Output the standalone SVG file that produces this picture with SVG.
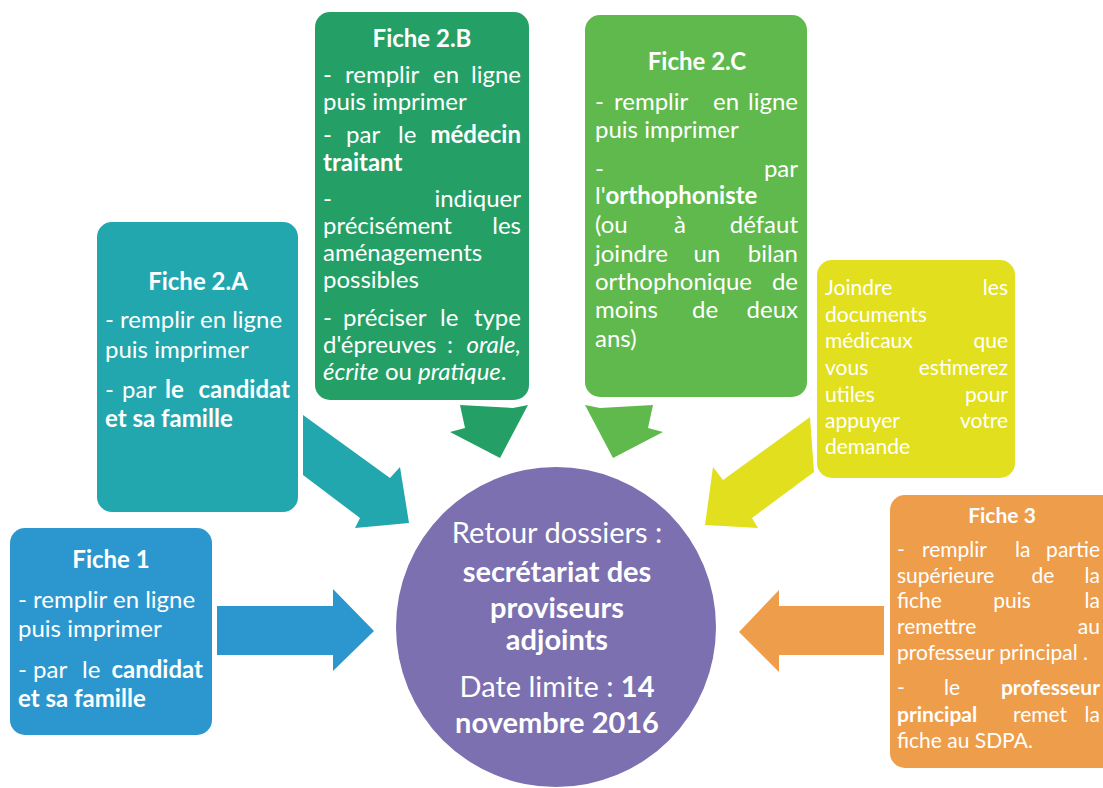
<svg xmlns="http://www.w3.org/2000/svg" width="1103" height="788" viewBox="0 0 1103 788">
<style>
.t{font-family:Lato,"Open Sans","Liberation Sans",sans-serif;fill:#fff;font-size:24px}
.s{font-size:21px}
.c{font-size:29px}
.b{font-weight:700}
.i{font-style:italic}
.m{text-anchor:middle}
.e{text-anchor:end}
.blue{fill:#2c97cf}
.teal{fill:#22a7ae}
.green{fill:#24a067}
.lgreen{fill:#60b94c}
.yellow{fill:#e2e01e}
.orange{fill:#ee9d4b}
.purple{fill:#7c70b0}
</style>
<rect width="1103" height="788" fill="#fff"/>
<g id="connectors">
<polygon class="blue" points="217,606 333,606 333,589 374,631 333,671 333,655 217,655"/>
<polygon class="orange" points="884,606 779,606 779,590 739,632 779,672 779,655 884,655"/>
<polygon class="teal" points="303,415 390,478 400,467 409,523 355,528 360,518 303,475"/>
<polygon class="yellow" points="810,417 723,480 713,467 705,525 758,528 752,518 814,472"/>
<polygon class="green" points="460,405 513,408 528,405 500,458 450,432 465,428"/>
<polygon class="lgreen" points="653,405 600,408 585,405 613,458 663,432 648,428"/>
</g>
<g id="center">
<circle class="purple" cx="556" cy="627" r="160"/>
<text class="t c m" x="557" y="543">Retour dossiers :</text>
<text class="t c m b"><tspan x="557" y="582">secrétariat des</tspan><tspan x="557" y="618">proviseurs</tspan><tspan x="557" y="650">adjoints</tspan></text>
<text class="t c m"><tspan x="557" y="697">Date limite : <tspan class="b">14</tspan></tspan><tspan class="b" x="557" y="733">novembre 2016</tspan></text>
</g>
<g id="fiche1">
<rect class="blue" x="10" y="528" width="202" height="207" rx="15"/>
<text class="t b m" x="111" y="568">Fiche 1</text>
<text class="t"><tspan x="18" y="608">- remplir en ligne</tspan><tspan x="18" y="637">puis imprimer</tspan></text>
<text class="t"><tspan x="18" y="678">-</tspan><tspan x="33">par</tspan><tspan x="82">le</tspan><tspan class="b e" x="203">candidat</tspan><tspan class="b" x="18" y="707">et sa famille</tspan></text>
</g>
<g id="fiche2a">
<rect class="teal" x="97" y="222" width="201" height="290" rx="15"/>
<text class="t b m" x="198" y="290">Fiche 2.A</text>
<text class="t"><tspan x="105" y="328">- remplir en ligne</tspan><tspan x="105" y="358">puis imprimer</tspan></text>
<text class="t"><tspan x="105" y="398">-</tspan><tspan x="122">par</tspan><tspan class="b" x="165">le</tspan><tspan class="b e" x="290">candidat</tspan><tspan class="b" x="105" y="427">et sa famille</tspan></text>
</g>
<g id="fiche2b">
<rect class="green" x="315" y="12" width="214" height="388" rx="15"/>
<text class="t b m" x="422" y="47">Fiche 2.B</text>
<text class="t"><tspan x="323" y="83">-</tspan><tspan x="345">remplir</tspan><tspan x="433">en</tspan><tspan class="e" x="521">ligne</tspan><tspan x="323" y="110">puis imprimer</tspan></text>
<text class="t"><tspan x="323" y="143">-</tspan><tspan x="346">par</tspan><tspan x="398">le</tspan><tspan class="b e" x="521">médecin</tspan><tspan class="b" x="323" y="171">traitant</tspan></text>
<text class="t"><tspan x="323" y="207">-</tspan><tspan class="e" x="521">indiquer</tspan><tspan x="323" y="234">précisément</tspan><tspan class="e" x="521">les</tspan><tspan x="323" y="261">aménagements</tspan><tspan x="323" y="288">possibles</tspan></text>
<text class="t"><tspan x="323" y="326">-</tspan><tspan x="343">préciser</tspan><tspan x="440">le</tspan><tspan class="e" x="521">type</tspan><tspan x="323" y="353">d'épreuves</tspan><tspan x="447">:</tspan><tspan class="i e" x="521">orale,</tspan><tspan x="323" y="380"><tspan class="i">écrite</tspan> ou <tspan class="i">pratique</tspan>.</tspan></text>
</g>
<g id="fiche2c">
<rect class="lgreen" x="585" y="15" width="222" height="382" rx="15"/>
<text class="t b m" x="697" y="70">Fiche 2.C</text>
<text class="t"><tspan x="595" y="110">-</tspan><tspan x="614">remplir</tspan><tspan x="713">en</tspan><tspan class="e" x="798">ligne</tspan><tspan x="595" y="138">puis imprimer</tspan></text>
<text class="t"><tspan x="595" y="177">-</tspan><tspan class="e" x="798">par</tspan><tspan x="595" y="204">l'<tspan class="b">orthophoniste</tspan></tspan><tspan x="595" y="233">(ou</tspan><tspan class="m" x="680">à</tspan><tspan class="e" x="798">défaut</tspan><tspan x="595" y="262">joindre</tspan><tspan class="m" x="707">un</tspan><tspan class="e" x="798">bilan</tspan><tspan x="595" y="290">orthophonique</tspan><tspan class="e" x="798">de</tspan><tspan x="595" y="318">moins</tspan><tspan class="m" x="705">de</tspan><tspan class="e" x="798">deux</tspan><tspan x="595" y="347">ans)</tspan></text>
</g>
<g id="documents">
<rect class="yellow" x="817" y="260" width="198" height="218" rx="15"/>
<text class="t s"><tspan x="825" y="295">Joindre</tspan><tspan class="e" x="1008">les</tspan><tspan x="825" y="322">documents</tspan><tspan x="825" y="348">médicaux</tspan><tspan class="e" x="1008">que</tspan><tspan x="825" y="375">vous</tspan><tspan class="e" x="1008">estimerez</tspan><tspan x="825" y="402">utiles</tspan><tspan class="e" x="1008">pour</tspan><tspan x="825" y="428">appuyer</tspan><tspan class="e" x="1008">votre</tspan><tspan x="825" y="454">demande</tspan></text>
</g>
<g id="fiche3">
<rect class="orange" x="890" y="495" width="230" height="273" rx="15"/>
<text class="t s b m" x="1002" y="523">Fiche 3</text>
<text class="t s"><tspan x="897" y="557">-</tspan><tspan x="922">remplir</tspan><tspan x="1015">la</tspan><tspan class="e" x="1100">partie</tspan><tspan x="897" y="583">supérieure</tspan><tspan class="m" x="1043">de</tspan><tspan class="e" x="1100">la</tspan><tspan x="897" y="608">fiche</tspan><tspan class="m" x="1012">puis</tspan><tspan class="e" x="1100">la</tspan><tspan x="897" y="634">remettre</tspan><tspan class="e" x="1100">au</tspan><tspan x="897" y="660">professeur principal .</tspan></text>
<text class="t s"><tspan x="897" y="695">-</tspan><tspan x="944">le</tspan><tspan class="b e" x="1100">professeur</tspan><tspan class="b" x="897" y="722">principal</tspan><tspan class="m" x="1040">remet</tspan><tspan class="e" x="1100">la</tspan><tspan x="897" y="748">fiche au SDPA.</tspan></text>
</g>
</svg>
